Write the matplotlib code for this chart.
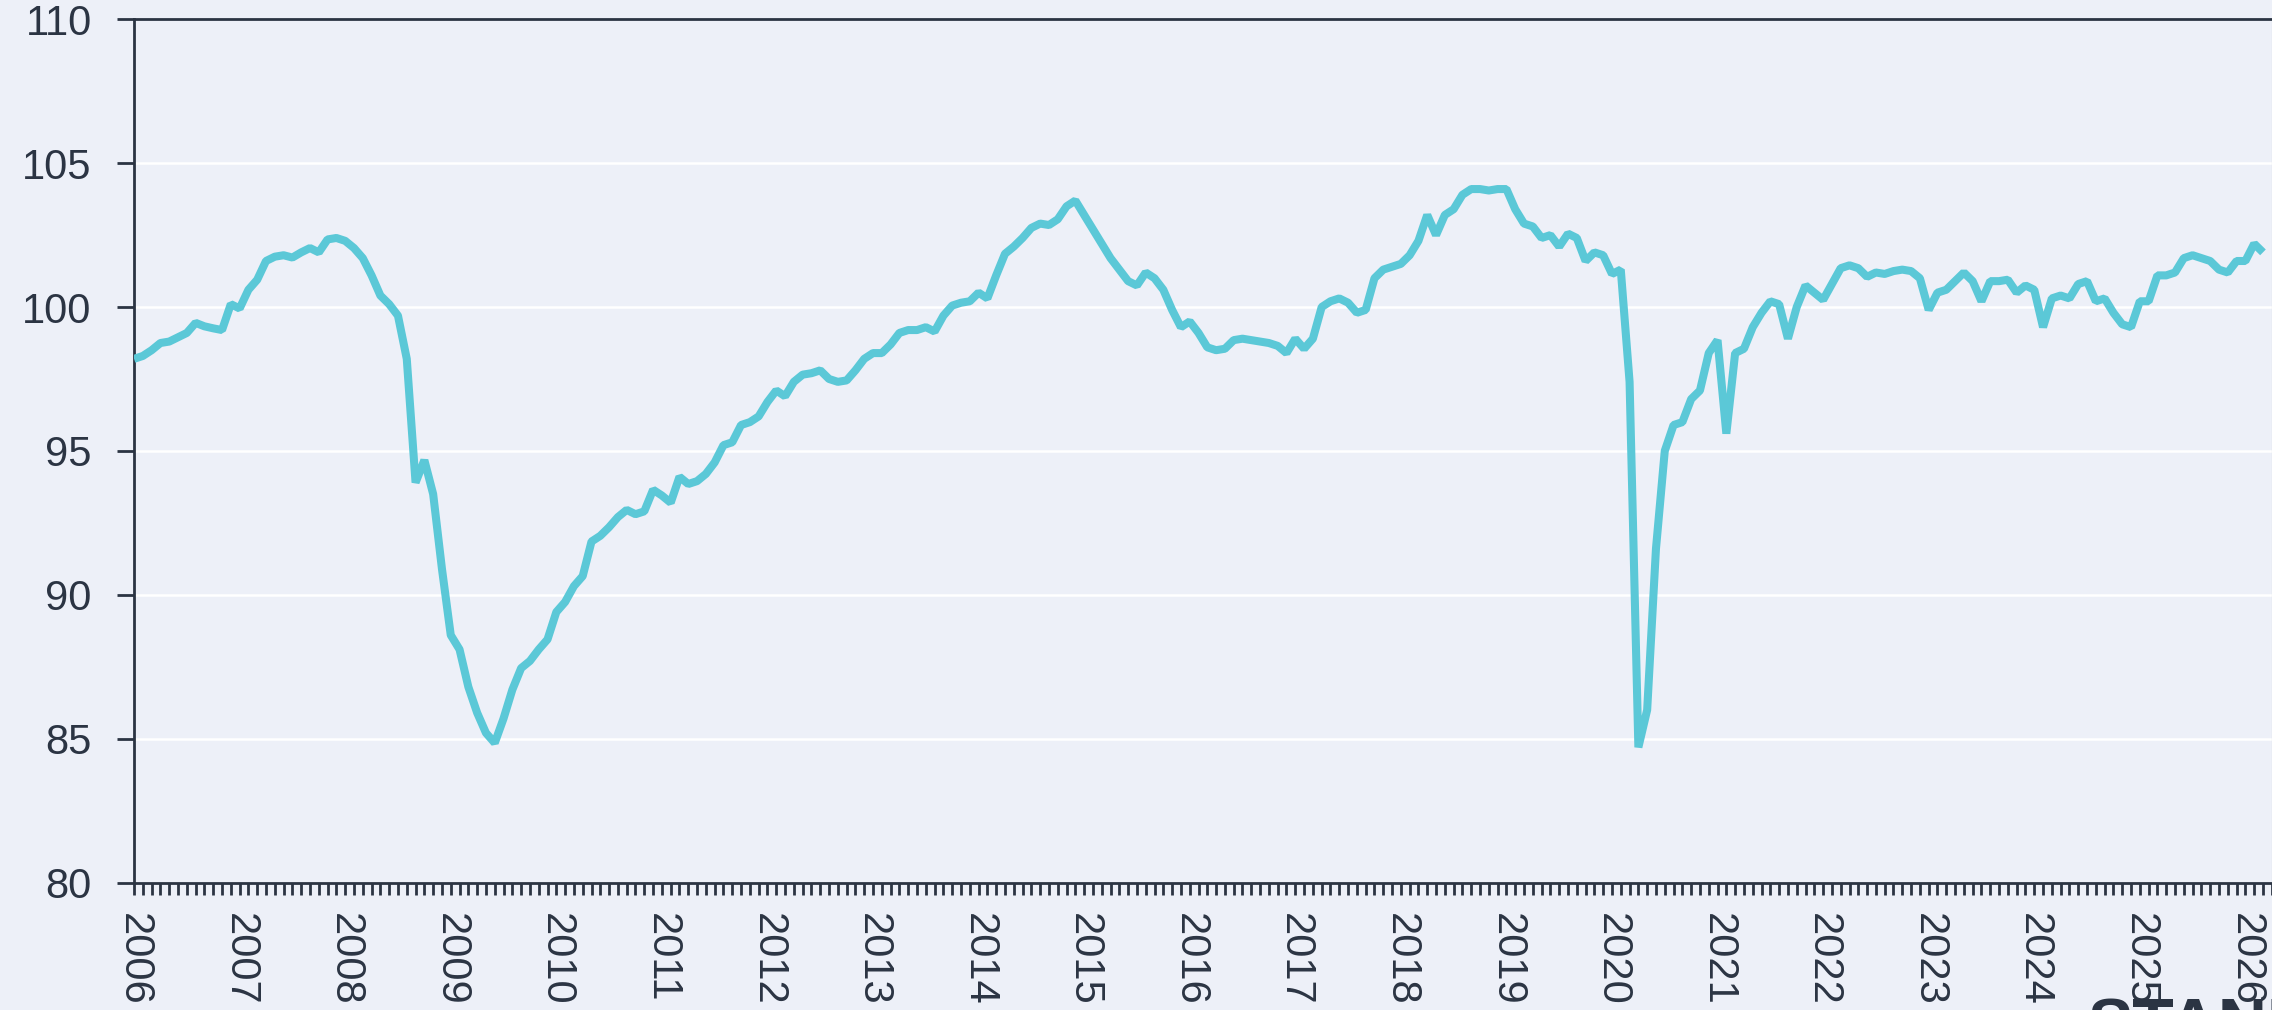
import numpy as np
import matplotlib
matplotlib.use('Agg')
import matplotlib.pyplot as plt
from matplotlib.ticker import MultipleLocator

# monthly index values, one list per year, starting Jan 2006
idx_2006 = [98.2, 98.3, 98.5, 98.75, 98.8, 98.95, 99.1, 99.45, 99.33, 99.26, 99.2, 100.1]
idx_2007 = [99.95, 100.6, 100.95, 101.6, 101.75, 101.8, 101.72, 101.9, 102.05, 101.9, 102.35, 102.4]
idx_2008 = [102.3, 102.05, 101.7, 101.1, 100.4, 100.1, 99.7, 98.2, 93.9, 94.68, 93.5, 90.9]
idx_2009 = [88.6, 88.1, 86.8, 85.9, 85.2, 84.85, 85.7, 86.7, 87.45, 87.7, 88.1, 88.45]
idx_2010 = [89.4, 89.75, 90.3, 90.65, 91.85, 92.05, 92.35, 92.7, 92.95, 92.8, 92.9, 93.65]
idx_2011 = [93.45, 93.2, 94.1, 93.85, 93.95, 94.2, 94.6, 95.2, 95.3, 95.9, 96.0, 96.2]
idx_2012 = [96.7, 97.1, 96.9, 97.4, 97.65, 97.7, 97.8, 97.5, 97.4, 97.45, 97.8, 98.2]
idx_2013 = [98.4, 98.4, 98.7, 99.1, 99.2, 99.2, 99.3, 99.15, 99.7, 100.05, 100.15, 100.2]
idx_2014 = [100.5, 100.3, 101.1, 101.85, 102.1, 102.4, 102.75, 102.9, 102.85, 103.05, 103.5, 103.7]
idx_2015 = [103.2, 102.7, 102.2, 101.7, 101.3, 100.9, 100.75, 101.2, 101.0, 100.6, 99.9, 99.3]
idx_2016 = [99.5, 99.1, 98.6, 98.5, 98.55, 98.85, 98.9, 98.85, 98.8, 98.75, 98.65, 98.4]
idx_2017 = [98.9, 98.55, 98.9, 100.0, 100.2, 100.3, 100.15, 99.8, 99.9, 101.0, 101.3, 101.4]
idx_2018 = [101.5, 101.8, 102.3, 103.2, 102.5, 103.2, 103.4, 103.9, 104.1, 104.1, 104.05, 104.1]
idx_2019 = [104.1, 103.4, 102.9, 102.8, 102.4, 102.5, 102.1, 102.55, 102.4, 101.6, 101.9, 101.8]
idx_2020 = [101.15, 101.3, 97.4, 84.7, 86.0, 91.6, 95.0, 95.9, 96.0, 96.8, 97.1, 98.4]
idx_2021 = [98.85, 95.6, 98.4, 98.55, 99.3, 99.8, 100.2, 100.1, 98.9, 100.0, 100.75, 100.5]
idx_2022 = [100.25, 100.8, 101.35, 101.45, 101.35, 101.05, 101.2, 101.15, 101.25, 101.3, 101.25, 101.0]
idx_2023 = [99.9, 100.5, 100.6, 100.9, 101.2, 100.9, 100.2, 100.9, 100.9, 100.95, 100.5, 100.75]
idx_2024 = [100.6, 99.3, 100.3, 100.4, 100.3, 100.8, 100.9, 100.2, 100.3, 99.8, 99.4, 99.3]
idx_2025 = [100.2, 100.2, 101.1, 101.1, 101.2, 101.7, 101.8, 101.7, 101.6, 101.3, 101.2, 101.6]
idx_2026 = [101.6, 102.2, 101.9]

years = list(range(2006, 2027))
year_labels = [str(y) for y in years]

values = np.array(idx_2006 + idx_2007 + idx_2008 + idx_2009 + idx_2010 + idx_2011
                  + idx_2012 + idx_2013 + idx_2014 + idx_2015 + idx_2016 + idx_2017
                  + idx_2018 + idx_2019 + idx_2020 + idx_2021 + idx_2022 + idx_2023
                  + idx_2024 + idx_2025 + idx_2026)
months = np.arange(len(values))  # 0 = Jan 2006

BG = '#EDF0F8'
INK = '#2B3443'
LINE = '#5BC8D7'

plt.rcParams['font.family'] = ['Liberation Sans', 'DejaVu Sans']

fig = plt.figure(figsize=(22.72, 10.10), dpi=100, facecolor=BG)
ax = fig.add_axes([0.059, 0.1262, 0.9409, 0.8547])
ax.set_facecolor(BG)

ax.plot(months, values, color=LINE, lw=5.8,
        solid_joinstyle='bevel', solid_capstyle='butt', zorder=3)

ax.set_xlim(0, 243)
ax.set_ylim(80, 110)
ax.set_yticks(range(80, 111, 5))
ax.yaxis.grid(True, color='white', lw=1.8)
ax.set_axisbelow(True)

ax.set_xticks(np.arange(len(years)) * 12)
ax.set_xticklabels(year_labels, rotation=-90)
ax.xaxis.set_minor_locator(MultipleLocator(1))

ax.tick_params(axis='x', which='both', length=8.6, width=2, color=INK,
               labelsize=30, labelcolor=INK, pad=13)
ax.tick_params(axis='y', length=12.5, width=2, color=INK,
               labelsize=30, labelcolor=INK, pad=18)

for side in ['left', 'bottom', 'top']:
    ax.spines[side].set_color(INK)
    ax.spines[side].set_linewidth(2)
ax.spines['right'].set_color('#B8BCC6')
ax.spines['right'].set_linewidth(0.8)

# watermark, mostly cut off by the bottom edge as in the source image
fig.text(0.9186, -0.036, 'STANDARD', fontsize=49, fontweight='bold',
         color=INK, ha='left', va='baseline')

fig.savefig('out.png', dpi=100, facecolor=BG)
